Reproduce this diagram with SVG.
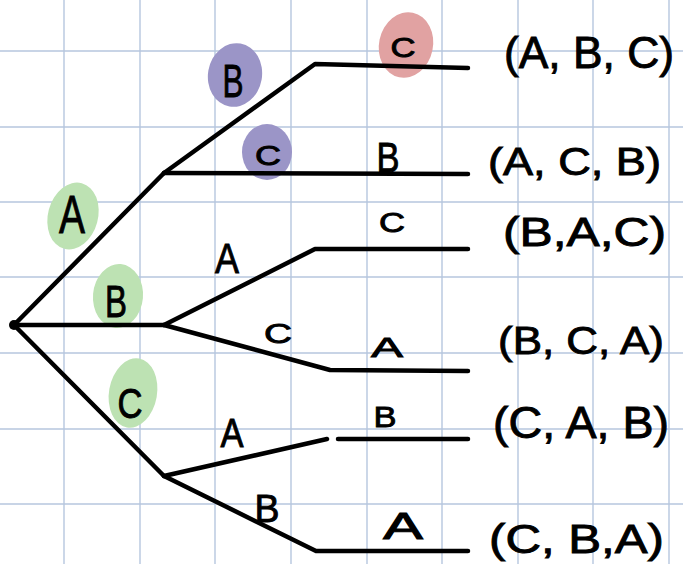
<svg xmlns="http://www.w3.org/2000/svg" width="683" height="564" viewBox="0 0 683 564">
<style>
.grid line{stroke:#b6c6de;stroke-width:1.4}
.edge{fill:none;stroke:#000;stroke-width:4.5;stroke-linecap:round;stroke-linejoin:round}
.t{font-family:"Liberation Sans",Arial,sans-serif;fill:#000;stroke:#000;stroke-width:0.9;text-anchor:middle}
.r{font-family:"Liberation Sans",Arial,sans-serif;fill:#000;stroke:#000;stroke-width:0.9}
.g{fill:#bde2b3}
.p{fill:#9b95c7}
.red{fill:#e1a2a2}
</style>
<rect width="683" height="564" fill="#fff"/>
<g class="grid">
<line x1="64" y1="0" x2="64" y2="564"/>
<line x1="140" y1="0" x2="140" y2="564"/>
<line x1="215" y1="0" x2="215" y2="564"/>
<line x1="291" y1="0" x2="291" y2="564"/>
<line x1="367" y1="0" x2="367" y2="564"/>
<line x1="442" y1="0" x2="442" y2="564"/>
<line x1="518" y1="0" x2="518" y2="564"/>
<line x1="593" y1="0" x2="593" y2="564"/>
<line x1="669" y1="0" x2="669" y2="564"/>
<line x1="0" y1="51" x2="683" y2="51"/>
<line x1="0" y1="127" x2="683" y2="127"/>
<line x1="0" y1="202" x2="683" y2="202"/>
<line x1="0" y1="277" x2="683" y2="277"/>
<line x1="0" y1="353" x2="683" y2="353"/>
<line x1="0" y1="429" x2="683" y2="429"/>
<line x1="0" y1="504" x2="683" y2="504"/>
</g>
<g id="blobs">
<ellipse class="g" cx="73" cy="216" rx="25" ry="34" transform="rotate(15 73 216)"/>
<ellipse class="g" cx="118" cy="296" rx="25" ry="32" transform="rotate(5 118 296)"/>
<ellipse class="g" cx="133" cy="393" rx="24" ry="35" transform="rotate(10 133 393)"/>
<ellipse class="p" cx="235" cy="75" rx="27" ry="32" transform="rotate(10 235 75)"/>
<ellipse class="p" cx="267" cy="152" rx="25" ry="28"/>
<ellipse class="red" cx="406" cy="45" rx="27" ry="33" transform="rotate(12 406 45)"/>
</g>
<g id="connectors">
<path class="edge" d="M14 325 L164 173"/>
<path class="edge" d="M164 173 L315 64 L468 68"/>
<path class="edge" d="M164 173 L468 174"/>
<path class="edge" d="M14 325 L164 325"/>
<path class="edge" d="M164 325 L315 249 L468 249"/>
<path class="edge" d="M164 325 L330 370 L468 371"/>
<path class="edge" d="M14 325 L164 476"/>
<path class="edge" d="M164 476 L327 439"/>
<path class="edge" d="M338 439 L468 439"/>
<path class="edge" d="M164 476 L316 551 L468 551"/>
</g>
<g id="root"><circle cx="14" cy="325" r="5" fill="#000"/></g>
<g id="level1">
<text class="t" x="72" y="233" font-size="54" textLength="26" lengthAdjust="spacingAndGlyphs">A</text>
<text class="t" x="116" y="317" font-size="44" textLength="22" lengthAdjust="spacingAndGlyphs">B</text>
<text class="t" x="130" y="418" font-size="42" textLength="25" lengthAdjust="spacingAndGlyphs">C</text>
</g>
<g id="level2">
<text class="t" x="233" y="97" font-size="47" textLength="21" lengthAdjust="spacingAndGlyphs">B</text>
<text class="t" x="268" y="165" font-size="28" textLength="26" lengthAdjust="spacingAndGlyphs">C</text>
<text class="t" x="227" y="273" font-size="43" textLength="24" lengthAdjust="spacingAndGlyphs">A</text>
<text class="t" x="278" y="343" font-size="28" textLength="28" lengthAdjust="spacingAndGlyphs">C</text>
<text class="t" x="232" y="447" font-size="40" textLength="23" lengthAdjust="spacingAndGlyphs">A</text>
<text class="t" x="267" y="522" font-size="38" textLength="25" lengthAdjust="spacingAndGlyphs">B</text>
</g>
<g id="level3">
<text class="t" x="403" y="57" font-size="28" textLength="25" lengthAdjust="spacingAndGlyphs">C</text>
<text class="t" x="388" y="172" font-size="42" textLength="23" lengthAdjust="spacingAndGlyphs">B</text>
<text class="t" x="392" y="232" font-size="27" textLength="26" lengthAdjust="spacingAndGlyphs">C</text>
<text class="t" x="387" y="357" font-size="28" textLength="32" lengthAdjust="spacingAndGlyphs">A</text>
<text class="t" x="385" y="427" font-size="30" textLength="23" lengthAdjust="spacingAndGlyphs">B</text>
<text class="t" x="403" y="539" font-size="36" textLength="40" lengthAdjust="spacingAndGlyphs">A</text>
</g>
<g id="results">
<text class="r" x="504" y="68" font-size="44" textLength="170" lengthAdjust="spacingAndGlyphs">(A, B, C)</text>
<text class="r" x="488" y="175" font-size="38" textLength="173" lengthAdjust="spacingAndGlyphs">(A, C, B)</text>
<text class="r" x="503" y="246" font-size="40" textLength="163" lengthAdjust="spacingAndGlyphs">(B,A,C)</text>
<text class="r" x="498" y="354" font-size="38" textLength="166" lengthAdjust="spacingAndGlyphs">(B, C, A)</text>
<text class="r" x="493" y="438" font-size="44" textLength="176" lengthAdjust="spacingAndGlyphs">(C, A, B)</text>
<text class="r" x="489" y="553" font-size="40" textLength="175" lengthAdjust="spacingAndGlyphs">(C, B,A)</text>
</g>
</svg>
